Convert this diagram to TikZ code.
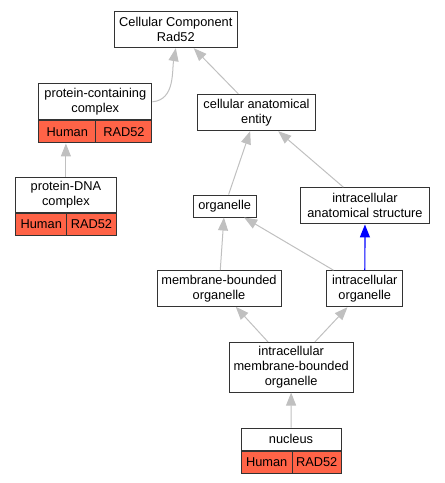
\documentclass[tikz,border=0pt]{standalone}
\usepackage{fontspec}
\setmainfont{Liberation Sans}
\usetikzlibrary{arrows.meta}
\definecolor{hred}{RGB}{255,99,71}
\definecolor{edgegray}{RGB}{192,192,192}
\definecolor{boxline}{RGB}{51,51,51}
\begin{document}
\begin{tikzpicture}[x=1pt,y=-1pt,font=\fontsize{12.8}{15}\selectfont,
	term/.style={draw=boxline,line width=1pt,fill=white,align=center,inner sep=0pt},
	cell/.style={term,fill=hred,minimum height=22pt},
	isa/.style={draw=edgegray,line width=1pt,-{Triangle[length=13pt,width=10pt]}},
	partof/.style={isa,draw=blue,line width=1.2pt}]
				\useasboundingbox (0,0) rectangle (445,483);
				
				\node[term,minimum width=123pt,minimum height=35.7pt] (cc) at (175.8,29.8) {Cellular Component\\Rad52};
				\node[term,minimum width=113.3pt,minimum height=36.3pt] (pcc) at (95.3,101.8) {protein-containing\\complex};
				\node[cell,minimum width=57.3pt,anchor=north west] (pcch) at (pcc.south west) {Human};
				\node[cell,minimum width=56pt,anchor=north east] (pccr) at (pcc.south east) {RAD52};
				\node[term,minimum width=100.3pt,minimum height=35pt] (pdc) at (65.9,194.8) {protein-DNA\\complex};
				\node[cell,minimum width=51pt,anchor=north west] (pdch) at (pdc.south west) {Human};
				\node[cell,minimum width=49.3pt,anchor=north east] (pdcr) at (pdc.south east) {RAD52};
				\node[term,minimum width=118.4pt,minimum height=36.4pt] (cae) at (256.5,112.5) {cellular anatomical\\entity};
				\node[term,minimum width=62.7pt,minimum height=22pt] (org) at (224.7,206) {organelle};
				\node[term,minimum width=128.6pt,minimum height=36.3pt] (ias) at (365,205.8) {intracellular\\anatomical structure};
				\node[term,minimum width=124pt,minimum height=35.6pt] (mbo) at (219,288.5) {membrane-bounded\\organelle};
				\node[term,minimum width=75.7pt,minimum height=36pt] (io) at (364.8,288.7) {intracellular\\organelle};
				\node[term,minimum width=124.3pt,minimum height=49.7pt] (imbo) at (291.2,367.2) {intracellular\\membrane-bounded\\organelle};
				\node[term,minimum width=100pt,minimum height=22pt] (nuc) at (291,439) {nucleus};
				\node[cell,minimum width=51.3pt,anchor=north west] (nuch) at (nuc.south west) {Human};
				\node[cell,minimum width=48.7pt,anchor=north east] (nucr) at (nuc.south east) {RAD52};
				
				% is_a edges, child to parent
				\foreach \kind/\von/\nach in {isa/cae/cc,isa/org/cae,isa/ias/cae,isa/mbo/org,isa/io/org,isa/imbo/mbo,isa/imbo/io,isa/nuc/imbo,partof/io/ias}
				\draw[\kind] (\von)--(\nach);
				\draw[isa] (pdc.north)--(pdc.north|-pcch.south);
				\draw[isa] (pcc.east) to[out=5,in=-100] (cc.south);
			\end{tikzpicture}
\end{document}
